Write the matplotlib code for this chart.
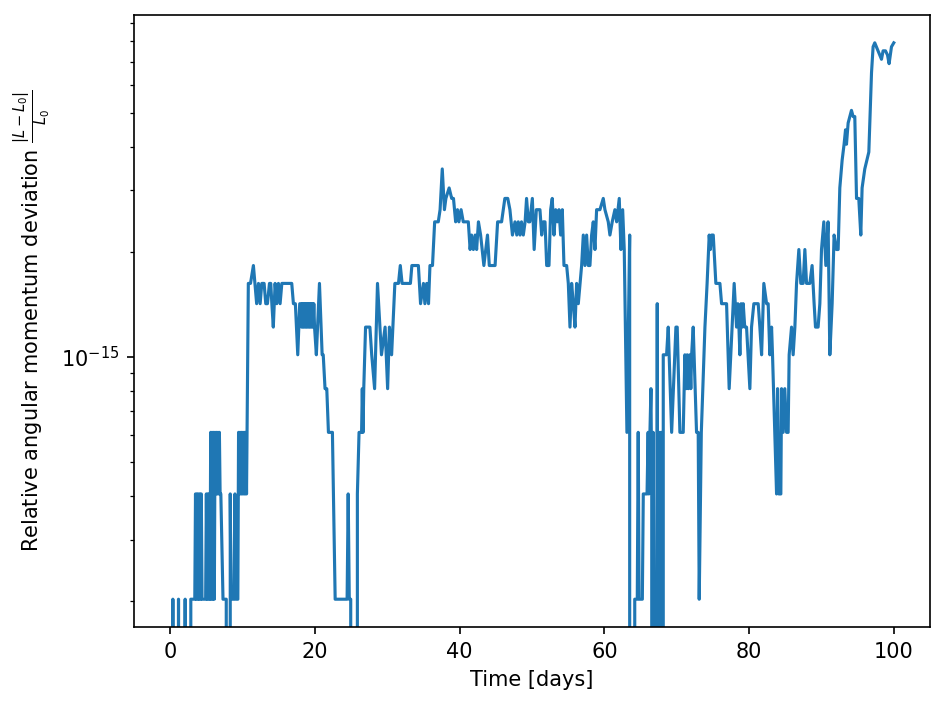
import numpy as np
import matplotlib.pyplot as plt

# relative deviation is quantised in steps of one ulp (~2.03e-16)
ulp = 2.03e-16

time_days = [
    0, 0.25, 0.37, 0.5, 1.05, 1.15, 1.28, 1.95, 2.07, 2.2, 2.75, 2.85, 3.4,
    3.5, 3.6, 3.7, 3.8, 3.9, 4.0, 4.1, 4.2, 4.3, 4.4, 4.9, 5.0, 5.1, 5.2, 5.3,
    5.4, 5.5, 5.6, 5.7, 5.8, 5.9, 6.0, 6.1, 6.2, 6.3, 6.4, 6.5, 6.6, 6.7, 6.8,
    6.9, 7.0, 7.3, 7.75, 7.85, 8.2, 8.3, 8.4, 8.8, 8.95, 9.05, 9.35, 9.45, 9.55,
    9.65, 9.75, 9.85, 9.95, 10.05, 10.15, 10.25, 10.35, 10.45, 10.55, 10.8, 11.1,
    11.5, 11.95, 12.2, 12.43, 12.66, 12.98, 13.21, 13.44, 13.72, 13.9, 14.05,
    14.25, 14.5, 14.73, 14.96, 15.19, 15.43, 16.8, 17.03, 17.3, 17.63, 17.9,
    18.05, 18.15, 18.25, 18.35, 18.45, 18.55, 18.65, 18.75, 18.85, 18.95, 19.05,
    19.15, 19.25, 19.35, 19.45, 19.55, 19.65, 19.75, 19.85, 19.95, 20.2, 20.63,
    21.0, 21.15, 21.4, 21.64, 21.87, 22.42, 22.8, 24.45, 24.6, 24.75, 24.95,
    25.1, 25.75, 25.87, 26.1, 26.45, 26.55, 26.65, 26.75, 27.0, 27.6, 27.85,
    28.25, 28.65, 29.2, 29.7, 30.05, 30.3, 30.6, 31.05, 31.55, 31.8, 32.05,
    33.2, 33.4, 34.3, 34.6, 35.0, 35.2, 35.45, 35.7, 35.9, 36.25, 36.55, 37.05,
    37.3, 37.6, 37.9, 38.1, 38.55, 38.9, 39.15, 39.45, 39.7, 39.9, 40.2, 40.5,
    41.2, 41.45, 41.65, 41.9, 42.15, 42.35, 42.6, 42.9, 43.35, 43.85, 44.1,
    44.9, 45.25, 45.8, 46.25, 46.65, 46.95, 47.3, 47.65, 47.9, 48.1, 48.35,
    48.55, 48.8, 49.05, 49.25, 49.5, 49.7, 50.05, 50.3, 50.6, 51.1, 51.34,
    51.56, 51.8, 52.03, 52.35, 52.58, 52.8, 53.04, 53.27, 53.5, 53.73, 53.96,
    54.19, 54.42, 54.79, 55.02, 55.25, 55.48, 55.71, 55.94, 56.17, 56.4, 56.86,
    57.09, 57.32, 57.55, 57.78, 58.01, 58.24, 58.47, 58.7, 58.93, 59.39, 59.85,
    60.08, 60.54, 60.77, 61.09, 61.46, 61.7, 62.06, 62.29, 62.53, 62.75, 63.12,
    63.5, 63.75, 64.1, 64.2, 64.55, 64.68, 64.8, 65.25, 65.38, 65.9, 66.05,
    66.15, 66.3, 66.44, 66.55, 66.65, 66.75, 66.85, 67.0, 67.2, 67.31, 67.45,
    67.55, 67.68, 67.8, 67.91, 68.0, 68.14, 68.28, 68.6, 68.83, 69.3, 69.89,
    70.07, 70.44, 70.9, 71.13, 71.3, 71.45, 71.6, 71.8, 71.95, 72.06, 72.28,
    72.74, 72.97, 73.11, 73.4, 73.9, 74.2, 74.49, 74.65, 74.82, 75.05, 75.41,
    75.97, 76.2, 76.89, 77.25, 77.94, 78.27, 78.45, 78.6, 78.73, 78.9, 79.05,
    79.19, 79.4, 79.65, 80.11, 80.34, 80.66, 81.03, 81.26, 81.49, 81.73, 82.04,
    82.42, 82.64, 82.87, 83.11, 83.24, 83.8, 83.94, 84.12, 84.39, 84.49, 84.71,
    84.94, 85.18, 85.4, 85.54, 85.87, 86.09, 86.33, 86.56, 86.88, 87.15, 87.47,
    87.71, 87.94, 88.4, 88.71, 88.99, 89.18, 89.54, 89.78, 90.01, 90.33, 90.61,
    90.92, 91.16, 91.48, 91.75, 92.08, 92.31, 92.54, 92.86, 93.13, 93.33, 93.46,
    93.69, 93.92, 94.15, 94.38, 94.61, 94.85, 95.16, 95.44, 95.62, 95.99, 96.55,
    96.92, 97.14, 97.37, 97.83, 98.3, 98.52, 98.85, 99.13, 99.35, 99.68, 100.0,
]

n_ulp = [
    0, 0, 1, 0, 0, 1, 0, 0, 1, 0, 0, 1, 1,
    2, 1, 2, 1, 2, 1, 2, 1, 2, 1, 1, 2, 1, 2, 1,
    2, 1, 3, 1, 3, 1, 3, 1, 3, 2, 3, 2, 3, 2, 3,
    2, 2, 1, 1, 0, 0, 2, 1, 1, 2, 1, 1, 3, 2,
    3, 2, 3, 2, 3, 2, 3, 2, 3, 2, 8, 8,
    9, 7, 8, 7, 8, 8, 7, 7, 8, 8, 7,
    6, 8, 7, 8, 7, 8, 8, 7, 7, 5, 7,
    7, 6, 7, 6, 7, 6, 7, 6, 7, 6, 7,
    6, 7, 6, 7, 6, 7, 6, 7, 6, 5, 8,
    5, 5, 4, 4, 3, 3, 1, 1, 2, 1, 1,
    0, 0, 2, 3, 3, 4, 3, 4, 6, 6, 5,
    4, 8, 5, 6, 4, 6, 5, 8, 8, 9, 8,
    8, 9, 9, 7, 8, 7, 8, 7, 9, 9, 12, 12,
    13, 17, 13, 14, 15, 14, 14, 12, 13, 12, 13, 12,
    12, 10, 11, 10, 11, 10, 12, 11, 9, 11, 9,
    9, 12, 12, 14, 14, 13, 11, 12, 11, 12, 11,
    12, 11, 12, 14, 12, 12, 14, 10, 13, 13, 11,
    12, 12, 9, 9, 13, 14, 11, 13, 12, 13, 11,
    13, 9, 9, 8, 6, 8, 7, 6, 8, 7, 9,
    11, 9, 11, 9, 9, 11, 12, 10, 13, 13, 14,
    13, 12, 11, 12, 13, 12, 14, 10, 13, 10, 3,
    11, 0, 0, 1, 1, 3, 1, 1, 2, 2, 3,
    2, 3, 4, 2, 0, 3, 1, 0, 0, 7, 0,
    0, 3, 0, 3, 0, 5, 5, 5, 6, 3, 6,
    6, 3, 3, 5, 4, 5, 4, 5, 4, 5, 6,
    3, 3, 1, 3, 6, 8, 11, 10, 11, 11, 8,
    8, 7, 7, 4, 8, 6, 7, 6, 5, 7, 6,
    7, 6, 6, 4, 6, 7, 7, 7, 6, 5, 8,
    7, 7, 5, 6, 5, 2, 4, 2, 2, 4, 3,
    4, 3, 3, 5, 6, 5, 6, 8, 10, 8, 8,
    10, 8, 8, 9, 7, 6, 6, 7, 10, 12, 9,
    12, 5, 7, 11, 10, 10, 15, 18, 20, 22, 20,
    23, 24, 25, 24, 24, 14, 14, 11, 15, 17, 19,
    32, 38, 39, 37, 35, 37, 37, 36, 34, 38, 39,
]

t = np.array(time_days)
deviation = np.array(n_ulp) * ulp

fig, ax = plt.subplots(figsize=(6.3, 4.7), dpi=150)
fig.subplots_adjust(left=0.1418, right=0.9841, top=0.9787, bottom=0.1106)

ax.plot(t, deviation)
ax.set_yscale('log')
ax.set_xlabel('Time [days]')
ax.set_ylabel(r'Relative angular momentum deviation $\frac{|L - L_0|}{L_0}$')

fig.savefig('out.png', dpi=150)
